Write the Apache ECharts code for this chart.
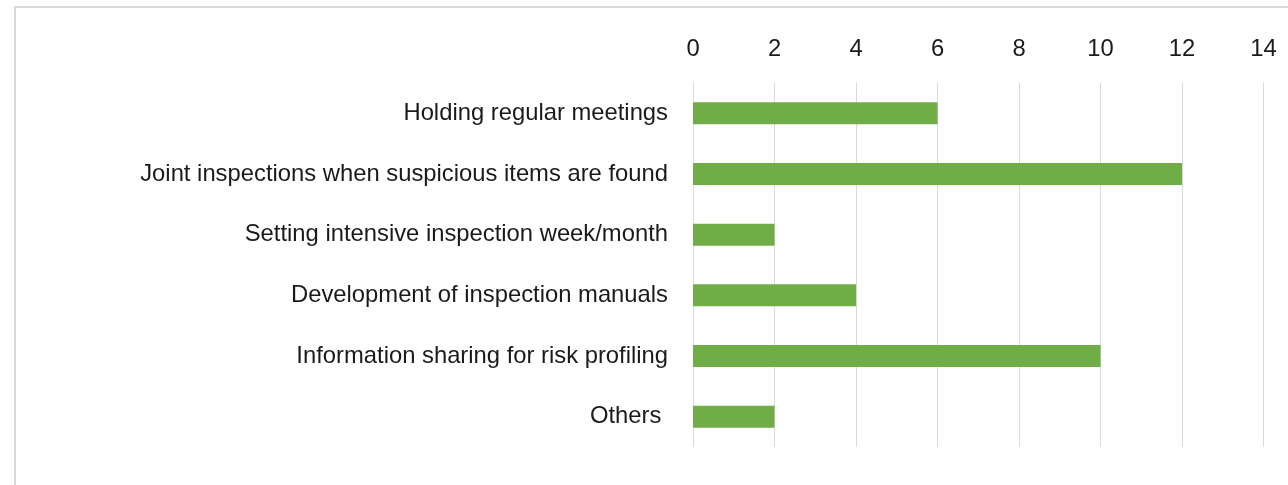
<!DOCTYPE html>
<html>
<head>
<meta charset="utf-8">
<script src="https://cdn.jsdelivr.net/npm/echarts@6/dist/echarts.min.js"></script>
<style>
html,body{margin:0;padding:0;background:#fff;}
#chart{width:1288px;height:485px;}
</style>
</head>
<body>
<div id="chart"></div>
<script>
var categories = [
  "Holding regular meetings",
  "Joint inspections when suspicious items are found",
  "Setting intensive inspection week/month",
  "Development of inspection manuals",
  "Information sharing for risk profiling",
  "Others "
];
var values = [6, 12, 2, 4, 10, 2];
var axisMin = 0, axisMax = 14, axisStep = 2;

var chart = echarts.init(document.getElementById('chart'), null, {renderer: 'canvas'});
var fontFamily = '"Liberation Sans", Arial, sans-serif';
chart.setOption({
  animation: false,
  backgroundColor: '#fff',
  graphic: [{
    type: 'rect',
    shape: {x: 15, y: 7, width: 1400, height: 600},
    style: {fill: 'none', stroke: '#d9d9d9', lineWidth: 2},
    silent: true
  }],
  grid: {left: 693, right: 24.5, top: 83, bottom: 38, containLabel: false},
  xAxis: {
    type: 'value',
    position: 'top',
    min: axisMin, max: axisMax, interval: axisStep,
    axisLine: {show: false},
    axisTick: {show: false},
    axisLabel: {
      margin: 34, verticalAlign: 'middle',
      fontFamily: fontFamily, fontSize: 23.8, color: '#1a1a1a'
    },
    splitLine: {show: true, lineStyle: {color: '#d9d9d9', width: 1}}
  },
  yAxis: {
    type: 'category',
    data: categories,
    inverse: true,
    axisLine: {show: false},
    axisTick: {show: false},
    axisLabel: {
      margin: 25,
      fontFamily: fontFamily, fontSize: 23.8, color: '#1a1a1a'
    }
  },
  series: [{
    type: 'bar',
    data: values,
    barWidth: 22,
    itemStyle: {color: '#70AD47'}
  }]
});
</script>
</body>
</html>
